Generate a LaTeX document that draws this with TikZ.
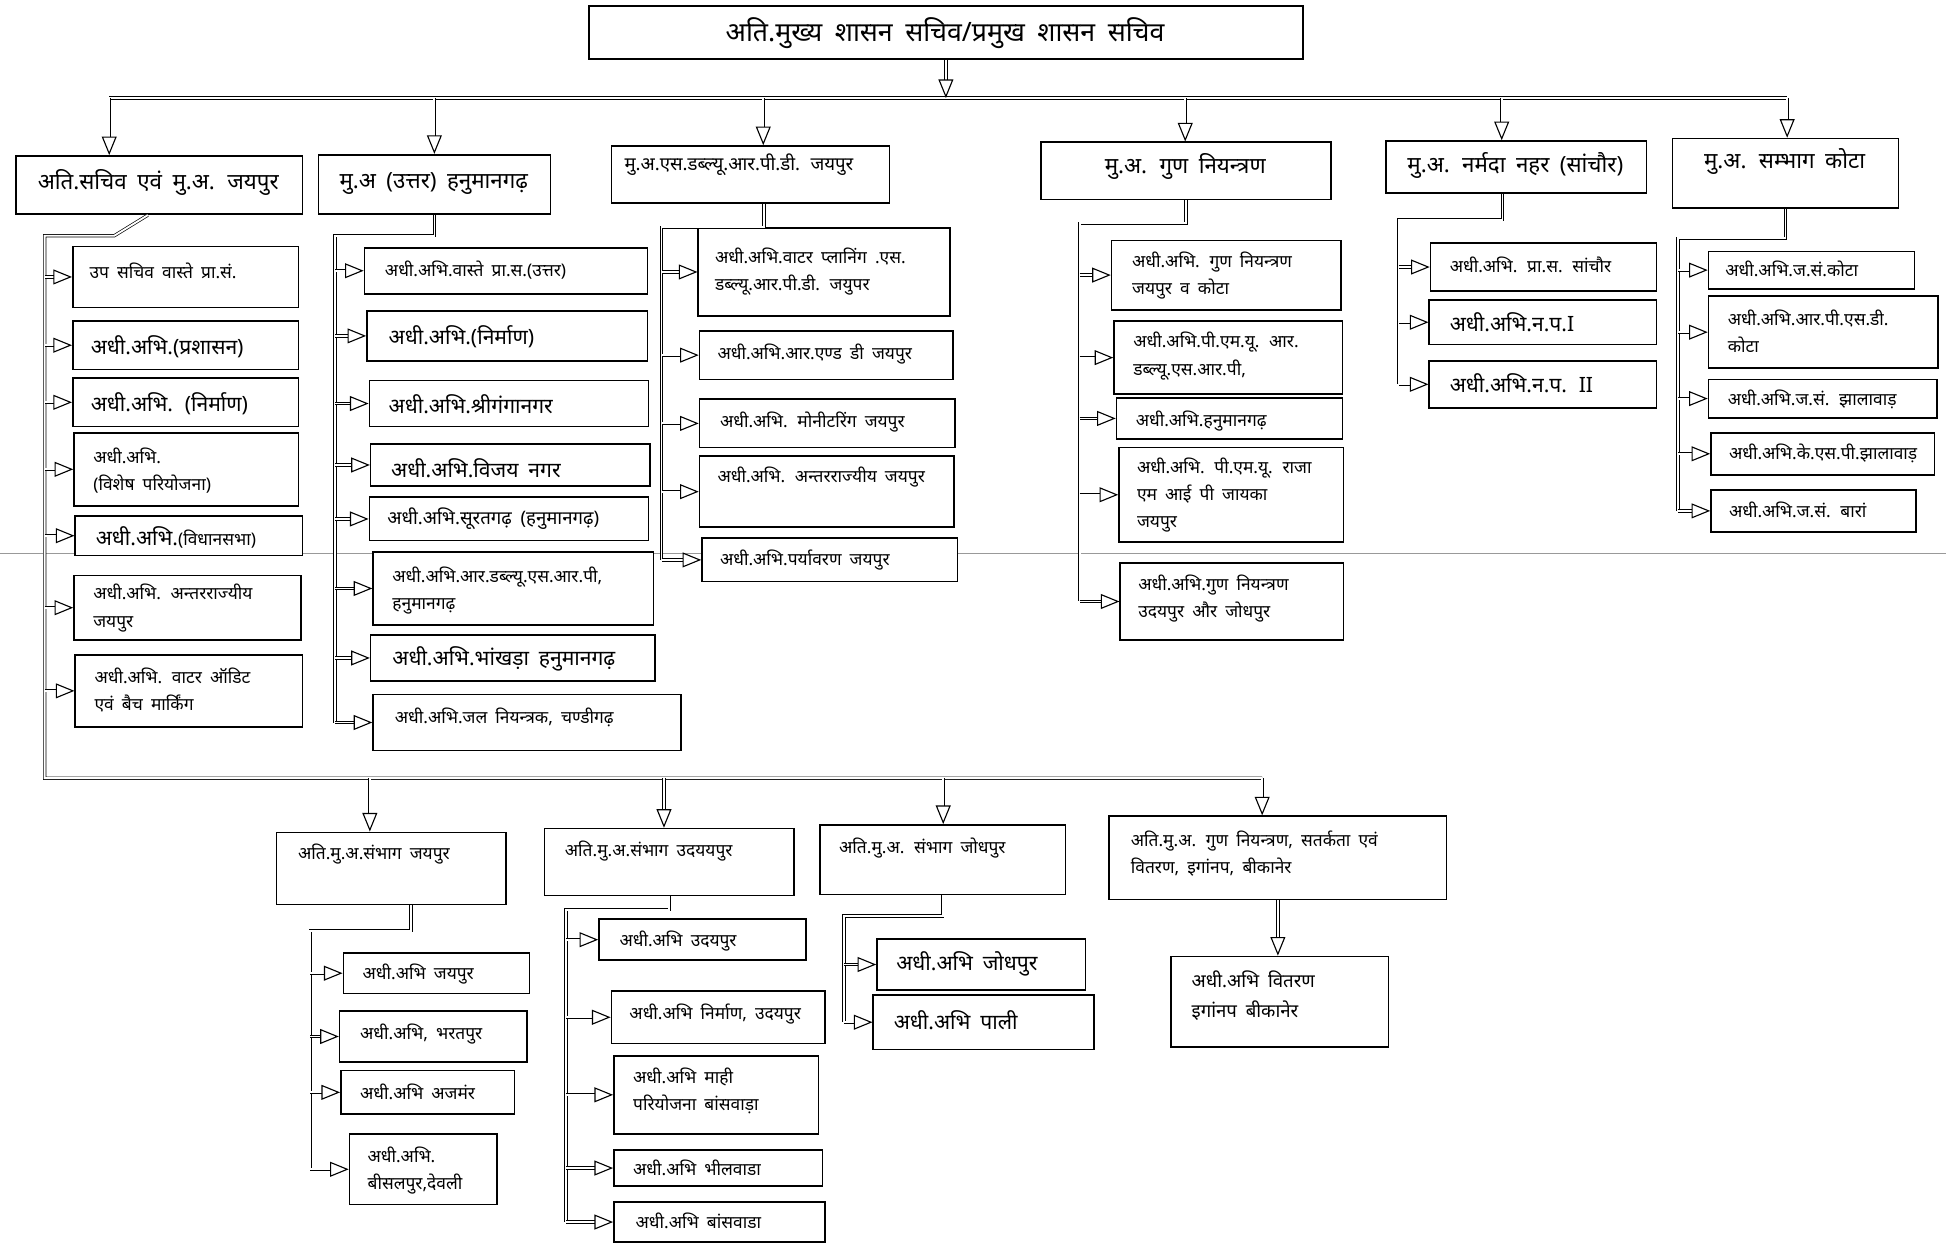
\documentclass[tikz,border=0pt]{standalone}
\usepackage{fontspec}
\setmainfont{Noto Sans}[Script=Devanagari, WordSpace=1.8]
\usetikzlibrary{arrows.meta}
\newcommand\fsS{\fontsize{14}{22}\selectfont}
\newcommand\fsM{\fontsize{15}{24}\selectfont}
\newcommand\fsL{\fontsize{17}{24}\selectfont}
\newcommand\fsH{\fontsize{18}{24}\selectfont}
\newcommand\fsT{\fontsize{21.5}{26}\selectfont}
\tikzset{
 box/.style={draw, line width=1.3pt, fill=white, inner sep=0pt, anchor=north west},
 lbl/.style={inner sep=0pt, align=left, anchor=west},
 dl/.style={draw, double, double distance=1.5pt, line width=0.55pt},
 conn/.style={dl, -{Triangle[open, length=15pt, width=12pt, line width=0.9pt]}},
}
\newcommand\bx[9]{%
 \node[box, minimum width={#4-#2}, minimum height={#5-#3}] (#1) at (#2,#3) {};
 \node[lbl, font=#8] (#1t) at (#6,#7) {#9};}
\newcommand\bxc[8]{%
 \node[box, minimum width={#4-#2}, minimum height={#5-#3}] (#1) at (#2,#3) {};
 \node[lbl, anchor=center, align=center, font=#7] (#1t) at ({(#2+#4)/2},#6) {#8};}
\begin{document}
\begin{tikzpicture}[x=1pt,y=-1pt]
\fill[white] (0,0) rectangle (1568,1002);
\useasboundingbox (0,0) rectangle (1568,1002);
\draw[black!40, line width=0.6pt] (0,446) -- (1568,446);

% top and level 1
\bxc{T}{474}{4}{1049}{47}{27}{\fsT}{अति.मुख्य शासन सचिव/प्रमुख शासन सचिव}
\bxc{La}{12}{125}{243}{172}{147}{\fsH}{अति.सचिव एवं मु.अ. जयपुर}
\bxc{Lb}{256}{124}{443}{172}{148}{\fsH}{मु.अ (उत्तर) हनुमानगढ़}
\bx{Lc}{492}{117}{716}{163}{503}{133}{\fsM}{मु.अ.एस.डब्ल्यू.आर.पी.डी. जयपुर}
\bxc{Ld}{838}{114}{1072}{160}{134}{\fsH}{मु.अ. गुण नियन्त्रण}
\bxc{Le}{1116}{113}{1326}{155}{133}{\fsH}{मु.अ. नर्मदा नहर (सांचौर)}
\bxc{Lf}{1347}{111}{1529}{167}{130}{\fsH}{मु.अ. सम्भाग कोटा}

% column 1
\bx{Aa}{58}{198}{240}{247}{72}{218}{\fsS}{उप सचिव वास्ते प्रा.सं.}
\bx{Ab}{58}{258}{240}{297}{73}{279}{\fsL}{अधी.अभि.(प्रशासन)}
\bx{Ac}{58}{304}{240}{343}{73}{325}{\fsL}{अधी.अभि. (निर्माण)}
\bx{Ad}{59}{348}{240}{407}{75}{379}{\fsS}{अधी.अभि.\\(विशेष परियोजना)}
\bx{Ae}{60}{415}{243}{447}{77}{433}{\fsS}{{\fsL अधी.अभि.}(विधानसभा)}
\bx{Af}{59}{463}{242}{515}{75}{490}{\fsS}{अधी.अभि. अन्तरराज्यीय\\जयपुर}
\bx{Ag}{60}{527}{243}{585}{76}{556}{\fsS}{अधी.अभि. वाटर ऑडिट\\एवं बैच मार्किंग}

% column 2
\bx{Ba}{293}{199}{521}{236}{310}{218}{\fsS}{अधी.अभि.वास्ते प्रा.स.(उत्तर)}
\bx{Bb}{295}{250}{521}{290}{313}{271}{\fsL}{अधी.अभि.(निर्माण)}
\bx{Bc}{297}{306}{522}{343}{313}{326}{\fsL}{अधी.अभि.श्रीगंगानगर}
\bx{Bd}{298}{357}{523}{391}{315}{377}{\fsL}{अधी.अभि.विजय नगर}
\bx{Be}{297}{400}{522}{435}{312}{418}{\fsM}{अधी.अभि.सूरतगढ़ (हनुमानगढ़)}
\bx{Bf}{300}{444}{526}{503}{316}{476}{\fsS}{अधी.अभि.आर.डब्ल्यू.एस.आर.पी,\\हनुमानगढ़}
\bx{Bg}{298}{511}{527}{548}{316}{531}{\fsL}{अधी.अभि.भांखड़ा हनुमानगढ़}
\bx{Bh}{300}{559}{548}{604}{318}{578}{\fsS}{अधी.अभि.जल नियन्त्रक, चण्डीगढ़}

% column 3
\bx{Ca}{562}{183}{765}{254}{576}{219}{\fsS}{अधी.अभि.वाटर प्लानिंग .एस.\\डब्ल्यू.आर.पी.डी. जयुपर}
\bx{Cb}{563}{266}{767}{305}{578}{285}{\fsS}{अधी.अभि.आर.एण्ड डी जयपुर}
\bx{Cc}{563}{321}{769}{360}{580}{340}{\fsS}{अधी.अभि. मोनीटरिंग जयपुर}
\bx{Cd}{563}{367}{768}{424}{578}{384}{\fsS}{अधी.अभि. अन्तरराज्यीय जयपुर}
\bx{Ce}{565}{433}{771}{468}{580}{451}{\fsS}{अधी.अभि.पर्यावरण जयपुर}

% column 4
\bx{Da}{895}{193}{1080}{249}{912}{222}{\fsS}{अधी.अभि. गुण नियन्त्रण\\जयपुर व कोटा}
\bx{Db}{897}{258}{1081}{317}{913}{287}{\fsS}{अधी.अभि.पी.एम.यू. आर.\\डब्ल्यू.एस.आर.पी,}
\bx{Dc}{899}{320}{1081}{353}{915}{339}{\fsS}{अधी.अभि.हनुमानगढ़}
\bx{Dd}{901}{360}{1082}{436}{916}{399}{\fsS}{अधी.अभि. पी.एम.यू. राजा\\एम आई पी जायका\\जयपुर}
\bx{De}{902}{453}{1082}{515}{917}{482}{\fsS}{अधी.अभि.गुण नियन्त्रण\\उदयपुर और जोधपुर}

% column 5
\bx{Ea}{1152}{195}{1334}{234}{1168}{213}{\fsS}{अधी.अभि. प्रा.स. सांचौर}
\bx{Eb}{1151}{241}{1334}{277}{1168}{260}{\fsL}{अधी.अभि.न.प.I}
\bx{Ec}{1151}{290}{1334}{328}{1168}{309}{\fsL}{अधी.अभि.न.प. II}

% column 6
\bx{Fa}{1376}{202}{1542}{232}{1390}{217}{\fsS}{अधी.अभि.ज.सं.कोटा}
\bx{Fb}{1376}{238}{1561}{296}{1392}{267}{\fsS}{अधी.अभि.आर.पी.एस.डी.\\कोटा}
\bx{Fc}{1376}{305}{1560}{336}{1392}{322}{\fsS}{अधी.अभि.ज.सं. झालावाड़}
\bx{Fd}{1378}{348}{1558}{382}{1393}{365}{\fsS}{अधी.अभि.के.एस.पी.झालावाड़}
\bx{Fe}{1378}{394}{1543}{428}{1393}{411}{\fsS}{अधी.अभि.ज.सं. बारां}

% bottom level
\bx{Ga}{222}{670}{407}{728}{240}{688}{\fsS}{अति.मु.अ.संभाग जयपुर}
\bx{Gb}{438}{667}{639}{721}{455}{686}{\fsS}{अति.मु.अ.संभाग उदययपुर}
\bx{Gc}{660}{664}{858}{720}{676}{683}{\fsS}{अति.मु.अ. संभाग जोधपुर}
\bx{Gd}{893}{657}{1165}{724}{911}{688}{\fsS}{अति.मु.अ. गुण नियन्त्रण, सतर्कता एवं\\वितरण, इगांनप, बीकानेर}

\bx{Ha}{276}{767}{426}{800}{292}{785}{\fsS}{अधी.अभि जयपुर}
\bx{Hb}{273}{814}{424}{855}{290}{833}{\fsS}{अधी.अभि, भरतपुर}
\bx{Hc}{274}{862}{414}{897}{290}{880}{\fsS}{अधी.अभि अजमंर}
\bx{Hd}{281}{913}{400}{970}{296}{943}{\fsS}{अधी.अभि.\\बीसलपुर,देवली}

\bx{Ia}{482}{740}{649}{773}{499}{758}{\fsS}{अधी.अभि उदयपुर}
\bx{Ib}{492}{798}{664}{840}{507}{817}{\fsS}{अधी.अभि निर्माण, उदयपुर}
\bx{Ic}{494}{850}{659}{913}{510}{879}{\fsS}{अधी.अभि माही\\परियोजना बांसवाड़ा}
\bx{Id}{494}{926}{662}{955}{510}{941}{\fsS}{अधी.अभि भीलवाडा}
\bx{Ie}{494}{968}{664}{1000}{512}{984}{\fsS}{अधी.अभि बांसवाडा}

\bx{Ja}{706}{756}{874}{797}{722}{777}{\fsL}{अधी.अभि जोधपुर}
\bx{Jb}{703}{801}{881}{845}{720}{822}{\fsL}{अधी.अभि पाली}

\bx{Ka}{943}{770}{1118}{843}{960}{802}{\fsM}{अधी.अभि वितरण\\इगांनप बीकानेर}

% ---- connectors
\coordinate (u1) at (88,79);
\coordinate (u2) at (350,79);
\coordinate (u3) at (615,79);
\coordinate (u4) at (955,79);
\coordinate (u5) at (1210,79);
\coordinate (u6) at (1440,79);
\draw[dl] (u1) -- (u6);
\draw[conn] (T.south) -- (T.south |- u1);
\foreach \p/\n in {u1/La,u2/Lb,u3/Lc,u4/Ld,u5/Le,u6/Lf}
  \draw[conn] (\p) -- (\p |- \n.north);

% column 1 trunk and lower bus
\coordinate (k1b) at (92,190);
\coordinate (k1) at (36,190);
\coordinate (k1d) at (36,627);
\coordinate (w1) at (298,627);
\coordinate (w2) at (535,627);
\coordinate (w3) at (760,627);
\coordinate (w4) at (1017,627);
\draw[dl] ([xshift=-9pt]La.south) -- (k1b) -- (k1) -- (k1d) -- (w4);
\foreach \n in {Aa,Ab,Ac,Ad,Ae,Af,Ag}
  \draw[conn] (k1 |- \n.west) -- (\n.west);
\foreach \p/\n in {w1/Ga,w2/Gb,w3/Gc,w4/Gd}
  \draw[conn] (\p) -- (\p |- \n.north);

% column 2
\coordinate (k2) at (270,190);
\draw[dl] (Lb.south) |- (k2) -- (k2 |- Bh.west);
\foreach \n in {Ba,Bb,Bc,Bd,Be,Bf,Bg,Bh}
  \draw[conn] (k2 |- \n.west) -- (\n.west);

% column 3
\coordinate (k3) at (533,183);
\draw[dl] ([xshift=11pt]Lc.south) |- (k3) -- (k3 |- Ce.west);
\foreach \n in {Ca,Cb,Cc,Cd,Ce}
  \draw[conn] (k3 |- \n.west) -- (\n.west);

% column 4
\coordinate (k4) at (870,180);
\draw[dl] (Ld.south) |- (k4) -- (k4 |- De.west);
\foreach \n in {Da,Db,Dc,Dd,De}
  \draw[conn] (k4 |- \n.west) -- (\n.west);

% column 5
\coordinate (k5) at (1127,177);
\draw[dl] ([xshift=-11pt]Le.south) |- (k5) -- (k5 |- Ec.west);
\foreach \n in {Ea,Eb,Ec}
  \draw[conn] (k5 |- \n.west) -- (\n.west);

% column 6
\coordinate (k6) at (1352,192);
\draw[dl] (Lf.south) |- (k6) -- (k6 |- Fe.west);
\foreach \n in {Fa,Fb,Fc,Fd,Fe}
  \draw[conn] (k6 |- \n.west) -- (\n.west);

% bottom columns
\coordinate (k7) at (250,750);
\draw[dl] ([xshift=16pt]Ga.south) |- (k7) -- (k7 |- Hd.west);
\foreach \n in {Ha,Hb,Hc,Hd}
  \draw[conn] (k7 |- \n.west) -- (\n.west);

\coordinate (k8) at (456,733);
\draw[dl] (Gb.south) |- (k8) -- (k8 |- Ie.west);
\foreach \n in {Ia,Ib,Ic,Id,Ie}
  \draw[conn] (k8 |- \n.west) -- (\n.west);

\coordinate (k9) at (680,738);
\draw[dl] (Gc.south) |- (k9) -- (k9 |- Jb.west);
\foreach \n in {Ja,Jb}
  \draw[conn] (k9 |- \n.west) -- (\n.west);

\draw[conn] (Gd.south) -- (Gd.south |- Ka.north);
\end{tikzpicture}
\end{document}
